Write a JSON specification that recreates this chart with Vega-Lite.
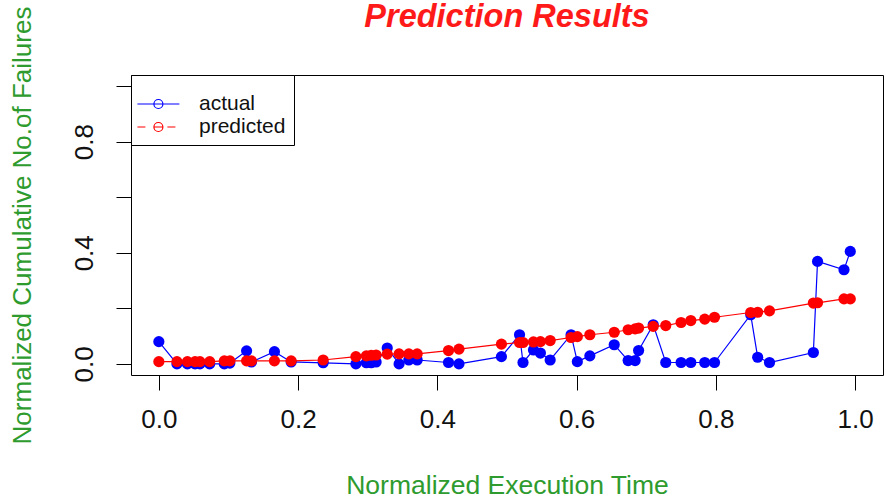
{
  "$schema": "https://vega.github.io/schema/vega-lite/v6.json",
  "width": 752,
  "height": 300,
  "autosize": {"type": "none"},
  "padding": {"left": 131, "top": 75, "right": 3, "bottom": 125},
  "background": "white",
  "title": {
    "text": "Prediction Results",
    "fontSize": 32.5,
    "fontStyle": "italic",
    "fontWeight": "bold",
    "color": "#ff1a1a",
    "anchor": "middle",
    "baseline": "alphabetic",
    "offset": 0,
    "dy": 53
  },
  "config": {
    "font": "Liberation Sans",
    "view": {"stroke": "black", "strokeWidth": 1},
    "legend": {
      "orient": "none",
      "legendX": 0,
      "legendY": 0
    }
  },
  "datasets": {
    "failures": [
      {"t": 0.000, "y": 0.080, "series": "actual"},
      {"t": 0.026, "y": 0.000, "series": "actual"},
      {"t": 0.041, "y": 0.000, "series": "actual"},
      {"t": 0.052, "y": 0.000, "series": "actual"},
      {"t": 0.059, "y": 0.000, "series": "actual"},
      {"t": 0.073, "y": 0.000, "series": "actual"},
      {"t": 0.094, "y": 0.000, "series": "actual"},
      {"t": 0.102, "y": 0.003, "series": "actual"},
      {"t": 0.126, "y": 0.047, "series": "actual"},
      {"t": 0.133, "y": 0.007, "series": "actual"},
      {"t": 0.166, "y": 0.044, "series": "actual"},
      {"t": 0.190, "y": 0.007, "series": "actual"},
      {"t": 0.236, "y": 0.004, "series": "actual"},
      {"t": 0.283, "y": 0.000, "series": "actual"},
      {"t": 0.298, "y": 0.004, "series": "actual"},
      {"t": 0.305, "y": 0.004, "series": "actual"},
      {"t": 0.312, "y": 0.007, "series": "actual"},
      {"t": 0.328, "y": 0.057, "series": "actual"},
      {"t": 0.345, "y": 0.000, "series": "actual"},
      {"t": 0.359, "y": 0.014, "series": "actual"},
      {"t": 0.371, "y": 0.014, "series": "actual"},
      {"t": 0.416, "y": 0.005, "series": "actual"},
      {"t": 0.431, "y": 0.000, "series": "actual"},
      {"t": 0.492, "y": 0.026, "series": "actual"},
      {"t": 0.518, "y": 0.105, "series": "actual"},
      {"t": 0.523, "y": 0.005, "series": "actual"},
      {"t": 0.538, "y": 0.050, "series": "actual"},
      {"t": 0.548, "y": 0.039, "series": "actual"},
      {"t": 0.562, "y": 0.014, "series": "actual"},
      {"t": 0.592, "y": 0.105, "series": "actual"},
      {"t": 0.601, "y": 0.008, "series": "actual"},
      {"t": 0.619, "y": 0.029, "series": "actual"},
      {"t": 0.654, "y": 0.069, "series": "actual"},
      {"t": 0.674, "y": 0.012, "series": "actual"},
      {"t": 0.684, "y": 0.012, "series": "actual"},
      {"t": 0.689, "y": 0.048, "series": "actual"},
      {"t": 0.710, "y": 0.141, "series": "actual"},
      {"t": 0.728, "y": 0.005, "series": "actual"},
      {"t": 0.750, "y": 0.005, "series": "actual"},
      {"t": 0.764, "y": 0.005, "series": "actual"},
      {"t": 0.784, "y": 0.005, "series": "actual"},
      {"t": 0.798, "y": 0.005, "series": "actual"},
      {"t": 0.850, "y": 0.177, "series": "actual"},
      {"t": 0.860, "y": 0.024, "series": "actual"},
      {"t": 0.877, "y": 0.005, "series": "actual"},
      {"t": 0.940, "y": 0.041, "series": "actual"},
      {"t": 0.946, "y": 0.369, "series": "actual"},
      {"t": 0.984, "y": 0.339, "series": "actual"},
      {"t": 0.993, "y": 0.405, "series": "actual"},
      {"t": 0.000, "y": 0.008, "series": "predicted"},
      {"t": 0.026, "y": 0.008, "series": "predicted"},
      {"t": 0.041, "y": 0.008, "series": "predicted"},
      {"t": 0.052, "y": 0.008, "series": "predicted"},
      {"t": 0.059, "y": 0.008, "series": "predicted"},
      {"t": 0.073, "y": 0.008, "series": "predicted"},
      {"t": 0.094, "y": 0.011, "series": "predicted"},
      {"t": 0.102, "y": 0.011, "series": "predicted"},
      {"t": 0.126, "y": 0.011, "series": "predicted"},
      {"t": 0.133, "y": 0.011, "series": "predicted"},
      {"t": 0.166, "y": 0.011, "series": "predicted"},
      {"t": 0.190, "y": 0.011, "series": "predicted"},
      {"t": 0.236, "y": 0.014, "series": "predicted"},
      {"t": 0.283, "y": 0.026, "series": "predicted"},
      {"t": 0.298, "y": 0.029, "series": "predicted"},
      {"t": 0.305, "y": 0.031, "series": "predicted"},
      {"t": 0.312, "y": 0.032, "series": "predicted"},
      {"t": 0.328, "y": 0.035, "series": "predicted"},
      {"t": 0.345, "y": 0.036, "series": "predicted"},
      {"t": 0.359, "y": 0.036, "series": "predicted"},
      {"t": 0.371, "y": 0.036, "series": "predicted"},
      {"t": 0.416, "y": 0.048, "series": "predicted"},
      {"t": 0.431, "y": 0.053, "series": "predicted"},
      {"t": 0.492, "y": 0.071, "series": "predicted"},
      {"t": 0.518, "y": 0.077, "series": "predicted"},
      {"t": 0.523, "y": 0.077, "series": "predicted"},
      {"t": 0.538, "y": 0.079, "series": "predicted"},
      {"t": 0.548, "y": 0.080, "series": "predicted"},
      {"t": 0.562, "y": 0.084, "series": "predicted"},
      {"t": 0.592, "y": 0.095, "series": "predicted"},
      {"t": 0.601, "y": 0.098, "series": "predicted"},
      {"t": 0.619, "y": 0.105, "series": "predicted"},
      {"t": 0.654, "y": 0.114, "series": "predicted"},
      {"t": 0.674, "y": 0.123, "series": "predicted"},
      {"t": 0.684, "y": 0.126, "series": "predicted"},
      {"t": 0.689, "y": 0.129, "series": "predicted"},
      {"t": 0.710, "y": 0.135, "series": "predicted"},
      {"t": 0.728, "y": 0.138, "series": "predicted"},
      {"t": 0.750, "y": 0.149, "series": "predicted"},
      {"t": 0.764, "y": 0.156, "series": "predicted"},
      {"t": 0.784, "y": 0.161, "series": "predicted"},
      {"t": 0.798, "y": 0.168, "series": "predicted"},
      {"t": 0.850, "y": 0.185, "series": "predicted"},
      {"t": 0.860, "y": 0.186, "series": "predicted"},
      {"t": 0.877, "y": 0.191, "series": "predicted"},
      {"t": 0.940, "y": 0.219, "series": "predicted"},
      {"t": 0.946, "y": 0.220, "series": "predicted"},
      {"t": 0.984, "y": 0.234, "series": "predicted"},
      {"t": 0.993, "y": 0.234, "series": "predicted"}
    ]
  },
  "data": {"name": "failures"},
  "encoding": {
    "x": {
      "field": "t",
      "type": "quantitative",
      "scale": {"domain": [-0.04, 1.04], "nice": false, "zero": false},
      "axis": {
        "values": [0, 0.2, 0.4, 0.6, 0.8, 1],
        "format": ".1f",
        "domain": false,
        "grid": false,
        "tickSize": 15,
        "tickColor": "black",
        "tickWidth": 1,
        "labelFontSize": 26,
        "labelColor": "#111111",
        "labelPadding": 16,
        "labelFlush": false,
        "labelOverlap": false,
        "title": "Normalized Execution Time",
        "titleFontSize": 26.5,
        "titleFontWeight": "normal",
        "titleColor": "#2e9b2e",
        "titlePadding": 40
      }
    },
    "y": {
      "field": "y",
      "type": "quantitative",
      "scale": {"domain": [-0.04, 1.04], "nice": false, "zero": false},
      "axis": {
        "values": [0, 0.2, 0.4, 0.6, 0.8, 1],
        "labelExpr": "(abs(datum.value) < 1e-9 || abs(datum.value - 0.4) < 1e-9 || abs(datum.value - 0.8) < 1e-9) ? format(datum.value, '.1f') : ''",
        "domain": false,
        "grid": false,
        "tickSize": 15,
        "tickColor": "black",
        "tickWidth": 1,
        "labelFontSize": 26,
        "labelColor": "#111111",
        "labelAngle": -90,
        "labelAlign": "center",
        "labelBaseline": "alphabetic",
        "labelPadding": 24,
        "labelOverlap": false,
        "title": "Normalized Cumulative No.of Failures",
        "titleFontSize": 26,
        "titleFontWeight": "normal",
        "titleColor": "#2e9b2e",
        "titlePadding": 36
      }
    }
  },
  "layer": [
    {
      "transform": [{"filter": "datum.series === 'actual'"}],
      "layer": [
        {
          "mark": {"type": "line", "strokeWidth": 1.2},
          "encoding": {
            "color": {
              "field": "series",
              "type": "nominal",
              "scale": {"domain": ["actual", "predicted"], "range": ["#0000ff", "#ff0000"]},
              "legend": {
                "title": " ",
                "titleFontSize": 10,
                "titlePadding": 0,
                "padding": 8,
                "strokeColor": "black",
                "fillColor": "white",
                "symbolType": "M-1.26,0H2.94M1.29,0A0.45,0.45,0,1,1,0.39,0A0.45,0.45,0,1,1,1.29,0",
                "symbolSize": 400,
                "symbolStrokeWidth": 1.2,
                "symbolFillColor": "transparent",
                "labelFontSize": 21,
                "labelColor": "#111111",
                "labelOffset": 38,
                "rowPadding": 2,
                "encode": {
                  "symbols": {
                    "update": {
                      "fill": {"value": "transparent"},
                      "fillOpacity": {"value": 0},
                      "shape": {"signal": "datum.value === 'predicted' ? 'M-1.26,0H-0.46M1.74,0H2.54M0.39,0H1.29M1.29,0A0.45,0.45,0,1,1,0.39,0A0.45,0.45,0,1,1,1.29,0' : 'M-1.26,0H2.94M1.29,0A0.45,0.45,0,1,1,0.39,0A0.45,0.45,0,1,1,1.29,0'"}
                    }
                  }
                }
              }
            }
          }
        },
        {
          "mark": {"type": "point", "filled": true, "size": 125, "opacity": 1},
          "encoding": {
            "fill": {
              "field": "series",
              "type": "nominal",
              "scale": {"domain": ["actual", "predicted"], "range": ["#0000ff", "#ff0000"]},
              "legend": null
            }
          }
        }
      ]
    },
    {
      "transform": [{"filter": "datum.series === 'predicted'"}],
      "layer": [
        {
          "mark": {"type": "line", "strokeWidth": 1.2},
          "encoding": {
            "color": {"field": "series", "type": "nominal"}
          }
        },
        {
          "mark": {"type": "point", "filled": true, "size": 125, "opacity": 1},
          "encoding": {
            "fill": {"field": "series", "type": "nominal", "legend": null}
          }
        }
      ]
    }
  ]
}
